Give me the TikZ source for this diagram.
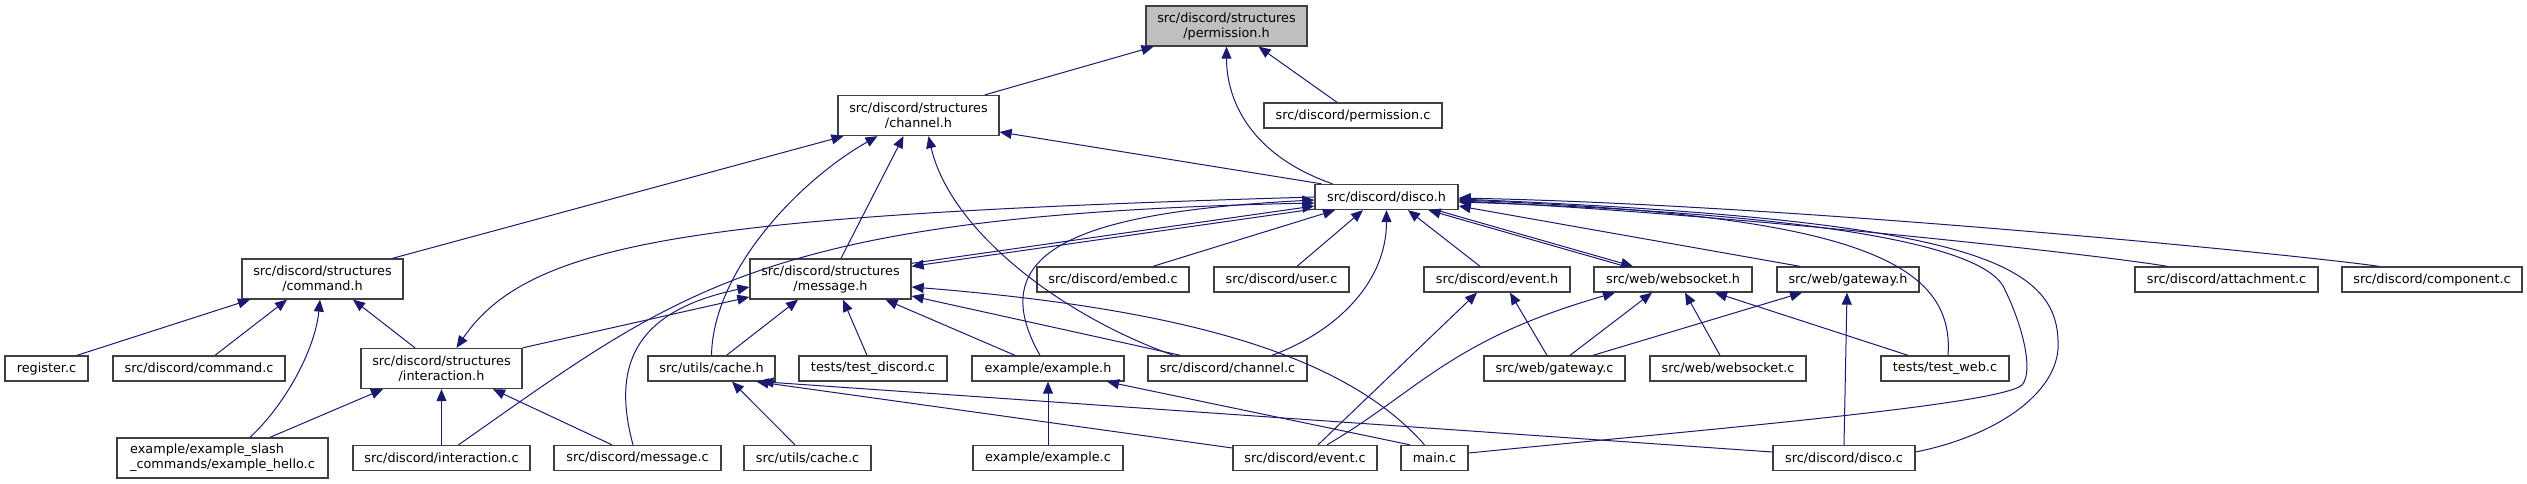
\documentclass[tikz,border=0pt]{standalone}
\usepackage{fontspec}
\setmainfont{DejaVu Sans}
\usetikzlibrary{arrows.meta,calc}
\definecolor{EdgeBlue}{RGB}{25,25,112}
\definecolor{BoxLine}{RGB}{64,64,64}
\definecolor{RootFill}{RGB}{191,191,191}

\begin{document}
\begin{tikzpicture}[x=0.75pt,y=-0.75pt,
   filebox/.style={draw=BoxLine,fill=white,line width=1pt,inner sep=0pt,align=center,
     font=\fontsize{9.6}{11.25}\selectfont,minimum height=18.75pt},
   wd/.style={minimum width=#1*0.75pt},
   twoline/.style={minimum height=30pt},
   dep/.style={EdgeBlue,line width=0.75pt,-{Triangle[length=9pt,width=7.5pt]}}]
  \useasboundingbox (0,0) rectangle (2527,484);
  % headers at the top
  \node[filebox,twoline,wd=161,fill=RootFill] (perm_h) at (1226.5,26) {src/discord/structures\\/permission.h};
  \node[filebox,twoline,wd=161] (chan_h) at (918.5,115.5) {src/discord/structures\\/channel.h};
  \node[filebox,wd=178] (perm_c) at (1353,115.5) {src/discord/permission.c};
  \node[filebox,wd=143] (disco_h) at (1386.5,197) {src/discord/disco.h};
  % third row
  \node[filebox,twoline,wd=161] (cmd_h) at (322.5,279) {src/discord/structures\\/command.h};
  \node[filebox,twoline,wd=161] (msg_h) at (830.5,279) {src/discord/structures\\/message.h};
  \node[filebox,wd=152] (embed_c) at (1113,279.5) {src/discord/embed.c};
  \node[filebox,wd=135] (user_c) at (1281.5,279.5) {src/discord/user.c};
  \node[filebox,wd=146] (event_h) at (1497,279.5) {src/discord/event.h};
  \node[filebox,wd=158] (ws_h) at (1673,279.5) {src/web/websocket.h};
  \node[filebox,wd=142] (gw_h) at (1848,279.5) {src/web/gateway.h};
  \node[filebox,wd=183] (attach_c) at (2226.5,279.5) {src/discord/attachment.c};
  \node[filebox,wd=180] (comp_c) at (2432,279.5) {src/discord/component.c};
  % fourth row
  \node[filebox,wd=83] (register_c) at (46.5,368.5) {register.c};
  \node[filebox,wd=172] (cmd_c) at (199,368.5) {src/discord/command.c};
  \node[filebox,twoline,wd=161] (inter_h) at (441.5,368.5) {src/discord/structures\\/interaction.h};
  \node[filebox,wd=127] (cache_h) at (711.5,368.5) {src/utils/cache.h};
  \node[filebox,wd=148] (tdisc_c) at (873,368.5) {tests/test\_discord.c};
  \node[filebox,wd=152] (ex_h) at (1048,368.5) {example/example.h};
  \node[filebox,wd=159] (chan_c) at (1227.5,368.5) {src/discord/channel.c};
  \node[filebox,wd=141] (gw_c) at (1554.5,368.5) {src/web/gateway.c};
  \node[filebox,wd=156] (ws_c) at (1728,368.5) {src/web/websocket.c};
  \node[filebox,wd=128] (tweb_c) at (1945,368.5) {tests/test\_web.c};
  % bottom row
  \node[filebox,twoline,wd=211,align=left] (hello_c) at (222.5,458) {example/example\_slash\\\_commands/example\_hello.c};
  \node[filebox,wd=177] (inter_c) at (441.5,458) {src/discord/interaction.c};
  \node[filebox,wd=167] (msg_c) at (637.5,458) {src/discord/message.c};
  \node[filebox,wd=127] (cache_c) at (807.5,458) {src/utils/cache.c};
  \node[filebox,wd=150] (ex_c) at (1048,458) {example/example.c};
  \node[filebox,wd=144] (event_c) at (1305,458) {src/discord/event.c};
  \node[filebox,wd=67] (main_c) at (1434.5,458) {main.c};
  \node[filebox,wd=142] (disco_c) at (1844,458) {src/discord/disco.c};
  % straight includes, top of includer to bottom of header
  \foreach \a/\da/\b/\db in {chan_h/66.5/perm_h/-73, perm_c/-16/perm_h/32,
      cmd_h/70/chan_h/-75, msg_h/10.5/chan_h/-15,
      embed_c/40/disco_h/-51.5, user_c/15.5/disco_h/-23.5, event_h/-17/disco_h/21.5,
      ws_h/-48/disco_h/42, register_c/30.5/cmd_h/-72.5, cmd_c/16/cmd_h/-35.5,
      inter_h/-26.5/cmd_h/30.5, cache_h/15/msg_h/-32.5, tdisc_c/-6/msg_h/12.5,
      ex_h/-33/msg_h/55, hello_c/47.5/inter_h/-58.5, inter_c/0/inter_h/0,
      msg_c/-25.5/inter_h/51.5, cache_c/-12.5/cache_h/20.5, ex_c/0/ex_h/0,
      main_c/-24.5/ex_h/59, event_c/13/event_h/-20, gw_c/-7.5/event_h/13,
      gw_c/15.5/ws_h/-21, gw_c/38.5/gw_h/-46, ws_c/-8/ws_h/12,
      tweb_c/-37/ws_h/42, disco_c/0/gw_h/-1}{
    \draw[dep] ($(\a.north)+(\da,0)$) -- ($(\b.south)+(\db,0)$);
  }
  % the rest
  \draw[dep] ($(disco_h.north)+(-54,0)$) .. controls (1250,155) and (1226.5,100) .. (perm_h.south);
  \draw[dep] ($(disco_h.north)+(-65,0)$) -- ($(chan_h.east)+(0,16.5)$);
  \draw[dep] (cache_h.north) .. controls (713,270) and (800,180) .. ($(chan_h.south)+(-41,0)$);
  \draw[dep] ($(chan_c.north)+(-54,0)$) .. controls (1060,315) and (950,230) .. ($(chan_h.south)+(10,0)$);
  \draw[dep] ($(msg_h.north east)+(0,5)$) -- ($(disco_h.west)+(0,9)$);
  \draw[dep] ($(disco_h.west)+(0,12)$) -- ($(msg_h.north east)+(0,8)$);
  \draw[dep] ($(ex_h.north)+(-8,0)$) .. controls (980,250) and (1080,212) .. ($(disco_h.west)+(0,3)$);
  \draw[dep] ($(inter_c.north)+(17,0)$) .. controls (680,290) and (760,215) .. ($(disco_h.west)+(0,6)$);
  \draw[dep] (disco_h.west) .. controls (700,215) and (530,240) .. ($(inter_h.north)+(15,0)$);
  \draw[dep] ($(chan_c.north)+(44.5,0)$) .. controls (1340,330) and (1386.5,280) .. (disco_h.south);
  \draw[dep] ($(disco_h.south)+(50,0)$) -- ($(ws_h.north)+(-40,0)$);
  \draw[dep] ($(gw_h.north)+(-48,0)$) -- ($(disco_h.east)+(0,9)$);
  \draw[dep] ($(tweb_c.north)+(3,0)$) .. controls (1955,260) and (1850,215) .. ($(disco_h.east)+(0,3)$);
  \draw[dep] ($(attach_c.north)+(-59,0)$) .. controls (2080,252) and (1700,212) .. ($(disco_h.east)+(0,4)$);
  \draw[dep] ($(comp_c.north)+(-53,0)$) .. controls (2300,255) and (1800,205) .. ($(disco_h.east)+(0,1)$);
  \draw[dep] ($(disco_c.east)+(0,-6)$) .. controls (2000,435) and (2062,390) .. (2058,340)
     .. controls (2055,260) and (1960,220) .. ($(disco_h.east)+(0,2)$);
  \draw[dep] ($(main_c.east)+(0,-5)$) .. controls (1700,430) and (2000,405) .. (2022,385)
     .. controls (2035,370) and (2020,320) .. (2005,290)
     .. controls (1990,250) and (1850,215) .. ($(disco_h.east)+(0,5)$);
  \draw[dep] ($(hello_c.north)+(27.5,0)$) .. controls (285,405) and (315,350) .. ($(cmd_h.south)+(-2.5,0)$);
  \draw[dep] (inter_h.north east) -- ($(msg_h.west)+(0,18)$);
  \draw[dep] ($(msg_c.north)+(-4.5,0)$) .. controls (610,360) and (640,310) .. ($(msg_h.west)+(0,8)$);
  \draw[dep] ($(chan_c.north)+(-47,0)$) -- ($(msg_h.east)+(0,17)$);
  \draw[dep] ($(main_c.north)+(-10,0)$) .. controls (1350,360) and (1200,310) .. ($(msg_h.east)+(0,8)$);
  \draw[dep] ($(event_c.west)+(0,-10)$) -- ($(cache_h.south)+(45,0)$);
  \draw[dep] ($(disco_c.west)+(0,-6)$) -- ($(cache_h.south)+(50,0)$);
  \draw[dep] ($(event_c.north)+(22,0)$) .. controls (1420,390) and (1450,340) .. ($(ws_h.south)+(-58,0)$);
\end{tikzpicture}
\end{document}
